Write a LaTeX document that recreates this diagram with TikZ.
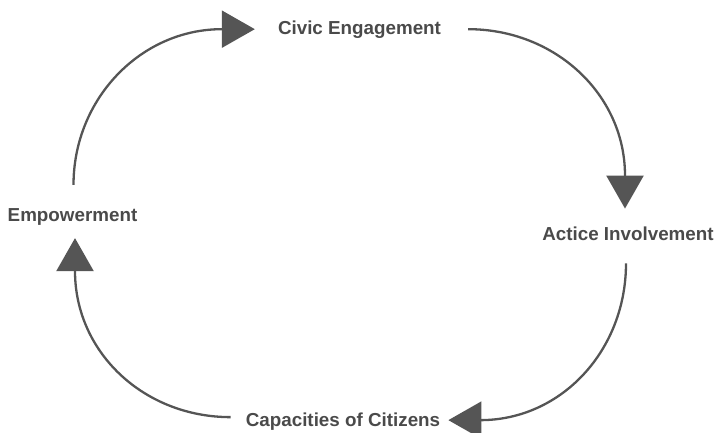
\documentclass[tikz,border=0pt]{standalone}
\usepackage{fontspec}
\setmainfont{Liberation Sans}
\usetikzlibrary{arrows.meta}
\definecolor{inkgray}{HTML}{555555}
\definecolor{textgray}{HTML}{4A4A4A}
\begin{document}
\begin{tikzpicture}[x=1pt,y=-1pt,
  label/.style={inner sep=0pt, anchor=base, text=textgray,
    font=\fontsize{18.8}{22}\selectfont\bfseries},
  conn/.style={draw=inkgray, line width=2.3pt,
    -{Triangle[length=33pt,width=37pt]}, fill=none}]
\useasboundingbox (0,0) rectangle (715,433);

% the four stages of the cycle
\node[label] (civic) at (359.5,35) {Civic Engagement};
\node[label] (act)   at (628,240)  {Actice Involvement};
\node[label] (cap)   at (343,426)  {Capacities of Citizens};
\node[label] (emp)   at (72.5,221) {Empowerment};

% clockwise arcs between the stages
\draw[conn] ([xshift=1pt,yshift=23pt]emp.north)
  .. controls +(0,-86) and +(-81,0) .. ([xshift=-56pt,yshift=1pt]civic.west)
  -- ([xshift=-23pt,yshift=1pt]civic.west);
\draw[conn] ([xshift=27pt,yshift=1pt]civic.east)
  .. controls +(87,0) and +(0,-81) .. ([xshift=-3pt,yshift=50.6pt]act.north)
  -- ([xshift=-3pt,yshift=17.6pt]act.north);
\draw[conn] ([xshift=-2pt,yshift=-23pt]act.south)
  .. controls +(0,87) and +(81,0) .. ([xshift=40pt,yshift=1pt]cap.east)
  -- ([xshift=8pt,yshift=1pt]cap.east);
\draw[conn] ([xshift=-15pt,yshift=4pt]cap.west)
  .. controls +(-87,0) and +(0,81) .. ([xshift=2.5pt,yshift=-46pt]emp.south)
  -- ([xshift=2.5pt,yshift=-13pt]emp.south);
\end{tikzpicture}
\end{document}
